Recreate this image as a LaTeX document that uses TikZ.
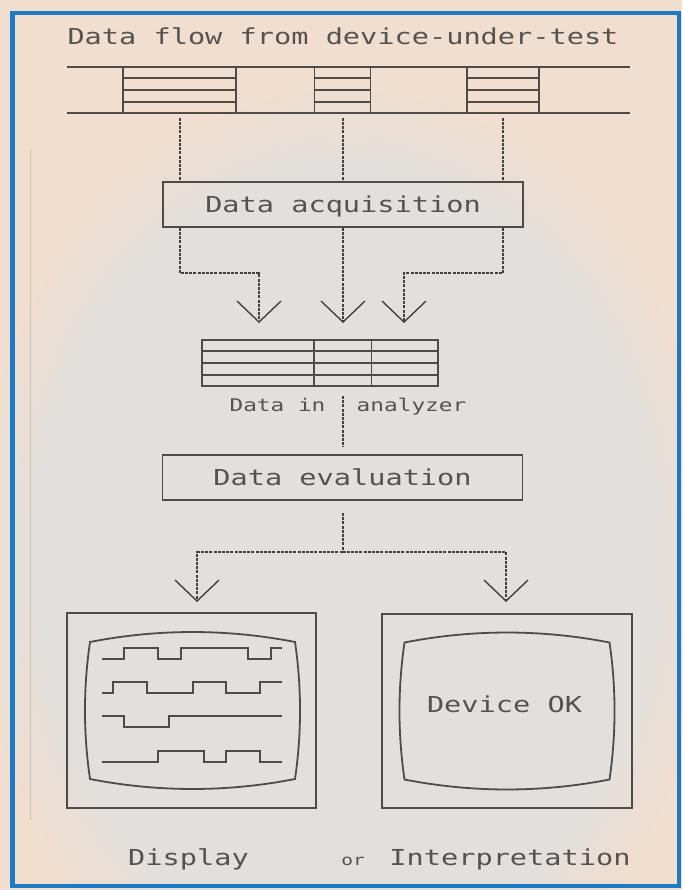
\documentclass[tikz,border=0pt]{standalone}
\usepackage{fontspec}
\newfontfamily\plotfont{DejaVu Sans Mono}[FakeStretch=1.3]
\usetikzlibrary{arrows.meta,calc,fadings}

\definecolor{ink}{HTML}{4D4C4A}
\definecolor{txt}{HTML}{555351}
\definecolor{paper}{HTML}{F2DECE}
\definecolor{haze}{HTML}{E2E0DD}
\definecolor{framecol}{HTML}{1C7BC4}
\definecolor{crease}{HTML}{CDC2BA}

\tikzset{
  line/.style={draw=ink, line width=1.8pt},
  wave/.style={draw=ink, line width=1.6pt},
  flow/.style={draw=ink!85!black, line width=2pt, dash pattern=on 3pt off 1.2pt},
  vtip/.style={-{Straight Barb[length=21pt,width=44pt,line width=1.4pt]}},
  block/.style={line, inner sep=0pt, minimum height=46pt},
  lab/.style={text=txt, inner sep=0pt, font=\plotfont\fontsize{22}{26}\selectfont},
  smalllab/.style={text=txt, inner sep=0pt, font=\plotfont\fontsize{17.5}{21}\selectfont},
  tinylab/.style={text=txt, inner sep=0pt, font=\plotfont\fontsize{15}{18}\selectfont},
  box/.style={line, inner sep=0pt, minimum width=360pt, minimum height=45pt,
    text height=16pt, text depth=0pt, text=txt,
    font=\plotfont\fontsize{22}{26}\selectfont},
  crt/.pic={
    \draw[line] (-102.5,-68.5)
      .. controls (-34.5,-81.8) and (34.5,-81.8) .. (102.5,-68.5)
      .. controls (109.2,-22.8) and (109.2,22.8) .. (102.5,68.5)
      .. controls (34.5,81.8) and (-34.5,81.8) .. (-102.5,68.5)
      .. controls (-109.2,22.8) and (-109.2,-22.8) .. cycle;
  }
}

\begin{document}
\begin{tikzpicture}[x=1pt,y=-1pt]
  % paper and page frame
  \useasboundingbox (0,0) rectangle (682,890);
  \fill[paper] (0,0) rectangle (682,890);
  \fill[haze, path fading=circle with fuzzy edge 20 percent] (345,560) ellipse [x radius=380pt, y radius=480pt];
  \draw[crease, line width=1pt] (30,150) -- (30,820);
  \draw[framecol, line width=4.5pt] (12.5,13) rectangle (679,886);

  % title and the incoming data stream
  \node[lab, anchor=base] (title) at (343,45) {Data flow from device-under-test};
  \coordinate (streamTL) at (67,67);
  \coordinate (streamTR) at (630,67);
  \coordinate (streamBL) at (67,113);
  \coordinate (streamBR) at (630,113);
  \draw[line] (streamTL) -- (streamTR);
  \draw[line] (streamBL) -- (streamBR);

  \node[block, minimum width=113pt] (blk1) at (179.5,90) {};
  \node[block, minimum width=56pt]  (blk2) at (342.5,90) {};
  \node[block, minimum width=72pt]  (blk3) at (503,90) {};

  % acquisition stage
  \node[box] (acq) at (343,204.5) {Data acquisition};

  \foreach \b in {blk1,blk2,blk3} {
    \foreach \f in {0.25,0.5,0.75}
      \draw[line] ($(\b.north west)!\f!(\b.south west)$) -- ($(\b.north east)!\f!(\b.south east)$);
    \draw[flow, shorten <=4pt] (\b.south) -- (\b.south |- acq.north);
  }

  \coordinate (tipA) at (259,323);
  \coordinate (tipB) at (343,323);
  \coordinate (tipC) at (404,323);
  \draw[flow, vtip] (blk1.south |- acq.south) -- ++(0,45) -| (tipA);
  \draw[flow, vtip] (acq.south) -- (tipB);
  \draw[flow, vtip] (blk3.south |- acq.south) -- ++(0,45) -| (tipC);

  % data memory of the analyzer
  \node[block, minimum width=236pt] (tbl) at (320,363) {};
  \foreach \f in {0.25,0.5,0.75}
    \draw[line] ($(tbl.north west)!\f!(tbl.south west)$) -- ($(tbl.north east)!\f!(tbl.south east)$);
  \draw[line] (tbl.north -| blk2.west) -- (tbl.south -| blk2.west);
  \draw[line] (tbl.north -| blk2.east) -- (tbl.south -| blk2.east);
  \node[smalllab, anchor=base] (datain) at (277.5,411) {Data in};
  \node[smalllab, anchor=base] (analyzer) at (411.5,411) {analyzer};

  % evaluation stage
  \node[box] (eval) at (342.5,477.5) {Data evaluation};
  \draw[flow, shorten <=9pt, shorten >=7pt] (tbl.south -| acq.south) -- (eval.north -| acq.south);

  \coordinate (split) at (342.5,552);
  \coordinate (tipD) at (197,602);
  \coordinate (tipI) at (506,602);
  \draw[flow, shorten <=12pt] (eval.south) -- (split);
  \draw[flow, vtip] (split) -| (tipD);
  \draw[flow, vtip] (split) -| (tipI);

  % the two monitors
  \node[line, inner sep=0pt, minimum width=249pt, minimum height=195pt] (mon1) at (191.5,710.5) {};
  \node[line, inner sep=0pt, minimum width=250pt, minimum height=194pt] (mon2) at (507,711) {};
  \pic at ($(mon1.center)+(1,0)$) {crt};
  \pic at (mon2.center) {crt};

  % timing traces on the left screen
  \draw[wave] (102,659) -- (124,659) -- (124,648) -- (158,648) -- (158,659) -- (181,659)
    -- (181,648) -- (248,648) -- (248,659) -- (271,659) -- (271,648) -- (282,648);
  \draw[wave] (102,693) -- (113,693) -- (113,682) -- (147,682) -- (147,693) -- (193,693)
    -- (193,682) -- (226,682) -- (226,693) -- (260,693) -- (260,682) -- (282,682);
  \draw[wave] (102,716) -- (124,716) -- (124,727) -- (169,727) -- (169,716) -- (282,716);
  \draw[wave] (102,762) -- (158,762) -- (158,751) -- (204,751) -- (204,762) -- (226,762)
    -- (226,751) -- (260,751) -- (260,762) -- (282,762);

  \node[lab, anchor=base] (ok) at (504.5,712) {Device OK};

  % captions
  \node[lab, anchor=base] (display) at (188.5,865) {Display};
  \node[tinylab, anchor=base] (or) at (353,865) {or};
  \node[lab, anchor=base] (interp) at (510,865) {Interpretation};
\end{tikzpicture}
\end{document}
